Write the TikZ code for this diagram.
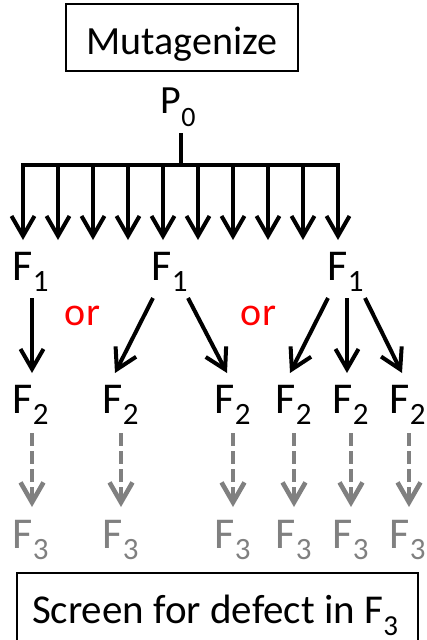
\documentclass[tikz,border=0pt]{standalone}
\usepackage{fontspec}
\setmainfont{Carlito}
\usetikzlibrary{arrows.meta,calc}
\definecolor{orred}{RGB}{255,0,0}
\definecolor{genthree}{RGB}{128,128,128}
% lowered index: size, drop, text
\newcommand\idx[3]{\raisebox{-#2pt}{\fontsize{#1}{#1}\selectfont #3}}
\begin{document}
\begin{tikzpicture}[x=1pt,y=-1pt,
  box/.style={draw, line width=1.6pt, inner sep=0pt, anchor=base,
    font=\fontsize{40}{40}\selectfont},
  lbl/.style={inner sep=0pt, anchor=base west, font=\fontsize{44}{44}\selectfont},
  ortext/.style={inner sep=0pt, anchor=base, text=orred, font=\fontsize{40}{40}\selectfont},
  solidarr/.style={line width=4pt, -{Straight Barb[length=20pt,width=23pt]}},
  dasharr/.style={genthree, line width=4pt, dash pattern=on 13pt off 5pt,
    -{Straight Barb[length=20pt,width=23pt, line width=4.6pt]}},
  barline/.style={line width=4pt}]
\clip (0,0) rectangle (427,640);

% top box
\node[box, minimum width=232pt, text height=50pt, text depth=17pt] (mut) at (182,54) {Mutagenize};

% bottom box, running past the lower edge
\draw[line width=1.8pt] (17,573) rectangle (418,680);
\node[inner sep=0pt, anchor=base, font=\fontsize{41}{41}\selectfont] (scr) at (215,623)
  {Screen for defect in F\idx{29}{12}{3}};

% parent
\node[inner sep=0pt, anchor=base west, font=\fontsize{40}{40}\selectfont] (p0) at (160.5,113)
  {P\idx{28}{13}{0}};

% fan-out comb
\coordinate (hub) at (181,165);
\coordinate (barL) at (23,165);
\coordinate (barR) at (338,165);
\draw[barline] ($(p0.base west)+(20.5,20)$) -- (hub);
\draw[barline, line cap=rect] (barL) -- (barR);
\foreach \i in {0,...,9} {
  \coordinate (top\i) at ($(barL)+(35*\i,0)$);
  \coordinate (tip\i) at ($(top\i)+(0,75)$);
  \draw[solidarr] (top\i) -- (tip\i);
}

% F1 generation
\node[lbl] (f1a) at (12.5,280) {F\idx{31}{11}{1}};
\node[lbl] (f1b) at (151.5,280) {F\idx{31}{11}{1}};
\node[lbl] (f1c) at (327.5,280) {F\idx{31}{11}{1}};

\node[ortext] (or1) at (82.5,325) {or};
\node[ortext] (or2) at (258.5,325) {or};

% F2 and F3 generations
\foreach \n/\x in {a/12.5, b/102.5, c/214.5, d/275.5, e/332.5, f/389.5} {
  \node[lbl] (f2\n) at (\x,413) {F\idx{31}{11}{2}};
  \node[lbl, text=genthree] (f3\n) at (\x,548) {F\idx{31}{11}{3}};
}

% F1 -> F2
\draw[solidarr] ($(f1a.base west)+(19.5,18)$) -- ($(f2a.base west)+(19.5,-40)$);
\draw[solidarr] ($(f1b.base west)+(1.5,18)$) -- ($(f2b.base west)+(12.5,-40)$);
\draw[solidarr] ($(f1b.base west)+(36.5,18)$) -- ($(f2c.base west)+(12.5,-40)$);
\draw[solidarr] ($(f1c.base west)+(0.5,18)$) -- ($(f2d.base west)+(14.5,-40)$);
\draw[solidarr] ($(f1c.base west)+(19.5,18)$) -- ($(f2e.base west)+(14.5,-40)$);
\draw[solidarr] ($(f1c.base west)+(37.5,18)$) -- ($(f2f.base west)+(12.5,-40)$);

% F2 -> F3
\foreach \n/\dx in {a/19.5, b/18.5, c/18.5, d/18.5, e/18.5, f/19.5} {
  \draw[dasharr] ($(f2\n.base west)+(\dx,20)$) -- ($(f3\n.base west)+(\dx,-41)$);
}
\end{tikzpicture}
\end{document}
